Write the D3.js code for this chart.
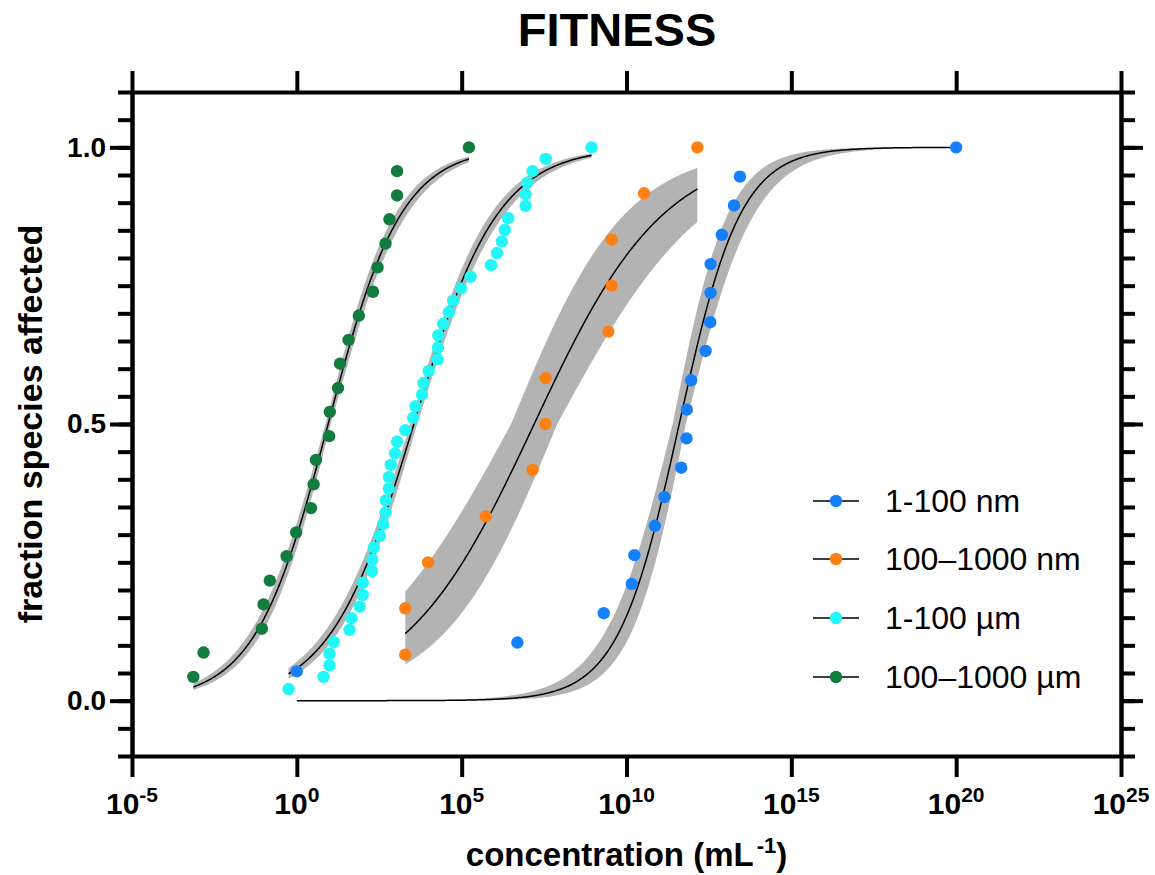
<!DOCTYPE html>
<html>
<head>
<meta charset="utf-8">
<script src="https://cdn.jsdelivr.net/npm/d3@7"></script>
<style>
  body { margin: 0; background: #fff; }
  svg { display: block; }
  text { font-family: "Liberation Sans", Arial, Helvetica, sans-serif; fill: #000; }
</style>
</head>
<body>
<svg id="chart" width="1155" height="875"></svg>
<script>
// ---- Data -------------------------------------------------------------
// Species sensitivity distributions: log10 concentration (per mL) at which
// each species is affected, and the cumulative fraction of species affected.

const seriesNames  = ["1-100 nm", "100–1000 nm", "1-100 µm", "100–1000 µm"];
const seriesColors = ["#1580FF", "#FF8012", "#22F6F6", "#127B3E"];

const nm1to100LogConc = [0.00, 6.69, 9.31, 10.16, 10.24, 10.86, 11.15, 11.66, 11.82, 11.83,
                         11.96, 12.40, 12.54, 12.55, 12.55, 12.89, 13.26, 13.44, 20.00];
const nm1to100Frac    = [0.053, 0.105, 0.158, 0.211, 0.263, 0.316, 0.368, 0.421, 0.474, 0.526,
                         0.579, 0.632, 0.684, 0.737, 0.789, 0.842, 0.895, 0.947, 1.000];

const nm100to1000LogConc = [3.29, 3.29, 3.98, 5.73, 7.15, 7.54, 7.55, 9.45, 9.55, 9.55, 10.53, 12.15];
const nm100to1000Frac    = [0.083, 0.167, 0.250, 0.333, 0.417, 0.500, 0.583, 0.667, 0.750, 0.833, 0.917, 1.000];

const um1to100LogConc = [-0.25, 0.81, 0.99, 0.99, 1.12, 1.60, 1.66, 1.91, 2.00, 2.00,
                          2.28, 2.29, 2.34, 2.52, 2.62, 2.69, 2.70, 2.79, 2.79, 2.85,
                          2.98, 3.04, 3.29, 3.53, 3.60, 3.80, 3.84, 4.00, 4.27, 4.28,
                          4.29, 4.44, 4.61, 4.74, 4.98, 5.27, 5.89, 6.07, 6.22, 6.31,
                          6.41, 6.94, 6.94, 6.99, 7.15, 7.55, 8.94];
const um1to100Frac    = [0.021, 0.043, 0.064, 0.085, 0.106, 0.128, 0.149, 0.170, 0.191, 0.213,
                         0.234, 0.255, 0.277, 0.298, 0.319, 0.340, 0.362, 0.383, 0.404, 0.426,
                         0.447, 0.468, 0.489, 0.511, 0.532, 0.553, 0.574, 0.596, 0.617, 0.638,
                         0.660, 0.681, 0.702, 0.723, 0.745, 0.766, 0.787, 0.809, 0.830, 0.851,
                         0.872, 0.894, 0.915, 0.936, 0.957, 0.979, 1.000];

const um100to1000LogConc = [-3.14, -2.83, -1.06, -1.01, -0.82, -0.31, -0.02, 0.43, 0.51, 0.58,
                             0.98, 1.00, 1.25, 1.31, 1.57, 1.88, 2.31, 2.45, 2.69, 2.81,
                             3.04, 3.04, 5.22];
const um100to1000Frac    = [0.043, 0.087, 0.130, 0.174, 0.217, 0.261, 0.304, 0.348, 0.391, 0.435,
                            0.478, 0.522, 0.565, 0.609, 0.652, 0.696, 0.739, 0.783, 0.826, 0.870,
                            0.913, 0.957, 1.000];

// Fitted log-logistic curves (bottom 0, top 1) and their uncertainty
const fitLogEC50    = [11.60, 7.20, 3.55, 0.95];
const fitHillSlope  = [0.465, 0.220, 0.340, 0.390];
const fitLogEC50Err = [0.20, 0.70, 0.10, 0.08];
const fitHillErr    = [0.050, 0.030, 0.015, 0.018];

// Axis ticks
const xTickExponents = [-5, 0, 5, 10, 15, 20, 25];
const yMajorTicks    = [0.0, 0.5, 1.0];

// ---- Layout -----------------------------------------------------------
const svg = d3.select("#chart");
const plotLeft = 132, plotRight = 1121, plotTop = 92, plotBottom = 756;

const x = d3.scaleLog().domain([1e-5, 1e25]).range([plotLeft, plotRight]);
const y = d3.scaleLinear().domain([-0.1, 1.1]).range([plotBottom, plotTop]);

const series = [
  { logc: nm1to100LogConc,    frac: nm1to100Frac },
  { logc: nm100to1000LogConc, frac: nm100to1000Frac },
  { logc: um1to100LogConc,    frac: um1to100Frac },
  { logc: um100to1000LogConc, frac: um100to1000Frac }
].map((s, i) => ({
  ...s,
  name: seriesNames[i],
  color: seriesColors[i],
  ec50: fitLogEC50[i], hill: fitHillSlope[i],
  ec50Err: fitLogEC50Err[i], hillErr: fitHillErr[i],
  points: s.logc.map((l, j) => ({ c: Math.pow(10, l), f: s.frac[j] }))
}));

const logistic = (lc, ec50, h) => 1 / (1 + Math.pow(10, (ec50 - lc) * h));

// ---- Fitted curves with confidence bands ------------------------------
function curveSamples(s) {
  const lo = d3.min(s.logc), hi = d3.max(s.logc);
  const n = 400;
  return d3.range(n + 1).map(k => {
    const lc = lo + (hi - lo) * k / n;
    const vals = [];
    for (const de of [-s.ec50Err, s.ec50Err])
      for (const dh of [-s.hillErr, s.hillErr])
        vals.push(logistic(lc, s.ec50 + de, s.hill + dh));
    return { c: Math.pow(10, lc), f: logistic(lc, s.ec50, s.hill),
             lo: d3.min(vals), hi: d3.max(vals) };
  });
}

const band = d3.area().x(d => x(d.c)).y0(d => y(d.lo)).y1(d => y(d.hi));
const line = d3.line().x(d => x(d.c)).y(d => y(d.f));

const gBands = svg.append("g");
const gCurves = svg.append("g");
const gPoints = svg.append("g");

series.forEach(s => {
  const samples = curveSamples(s);
  gBands.append("path").attr("d", band(samples)).attr("fill", "#B3B3B3");
  gCurves.append("path").attr("d", line(samples))
    .attr("fill", "none").attr("stroke", "#000").attr("stroke-width", 1.5);
});

series.forEach(s => {
  gPoints.append("g").selectAll("circle").data(s.points).join("circle")
    .attr("cx", d => x(d.c)).attr("cy", d => y(d.f)).attr("r", 6.2)
    .attr("fill", s.color);
});

// ---- Axes -------------------------------------------------------------
const xTickVals = xTickExponents.map(e => Math.pow(10, e));
const yMinorTicks = d3.range(-2, 23).map(k => +(k * 0.05).toFixed(2));

function styleAxis(g) {
  g.selectAll(".domain").attr("stroke", "#000").attr("stroke-width", 4);
  g.selectAll(".tick line").attr("stroke", "#000").attr("stroke-width", 4);
}

// bottom & top
svg.append("g").attr("transform", `translate(0,${plotBottom})`)
  .call(d3.axisBottom(x).tickValues(xTickVals).tickSize(21).tickSizeOuter(0).tickFormat(""))
  .call(styleAxis);
svg.append("g").attr("transform", `translate(0,${plotTop})`)
  .call(d3.axisTop(x).tickValues(xTickVals).tickSize(21).tickSizeOuter(0).tickFormat(""))
  .call(styleAxis);

// left & right: minor then major ticks
svg.append("g").attr("transform", `translate(${plotLeft},0)`)
  .call(d3.axisLeft(y).tickValues(yMinorTicks).tickSize(14).tickSizeOuter(0).tickFormat(""))
  .call(styleAxis);
svg.append("g").attr("transform", `translate(${plotLeft},0)`)
  .call(d3.axisLeft(y).tickValues(yMajorTicks).tickSize(22).tickSizeOuter(0)
        .tickPadding(4).tickFormat(d3.format(".1f")))
  .call(styleAxis)
  .call(g => g.selectAll(".tick text")
    .attr("font-family", "Liberation Sans, Arial, sans-serif")
    .attr("font-size", 28).attr("font-weight", "bold"));
svg.append("g").attr("transform", `translate(${plotRight},0)`)
  .call(d3.axisRight(y).tickValues(yMinorTicks).tickSize(14).tickSizeOuter(0).tickFormat(""))
  .call(styleAxis);
svg.append("g").attr("transform", `translate(${plotRight},0)`)
  .call(d3.axisRight(y).tickValues(yMajorTicks).tickSize(22).tickSizeOuter(0).tickFormat(""))
  .call(styleAxis);

// x tick labels as powers of ten
const xLab = svg.append("g").selectAll("text").data(xTickExponents).join("text")
  .attr("x", d => x(Math.pow(10, d))).attr("y", 814)
  .attr("text-anchor", "middle").attr("font-size", 30).attr("font-weight", "bold");
xLab.append("tspan").text("10");
xLab.append("tspan").attr("dy", -12).attr("font-size", 21).text(d => d);

// ---- Titles -----------------------------------------------------------
svg.append("text").attr("x", 617).attr("y", 46).attr("text-anchor", "middle")
  .attr("font-size", 47).attr("font-weight", "bold").text("FITNESS");

const xTitle = svg.append("text").attr("x", (plotLeft + plotRight) / 2).attr("y", 866)
  .attr("text-anchor", "middle").attr("font-size", 33).attr("font-weight", "bold");
xTitle.append("tspan").text("concentration (mL");
xTitle.append("tspan").attr("dx", 3).attr("dy", -13).attr("font-size", 22).text("-1");
xTitle.append("tspan").attr("dy", 13).text(")");

svg.append("text")
  .attr("transform", `translate(42,${(plotTop + plotBottom) / 2}) rotate(-90)`)
  .attr("text-anchor", "middle").attr("font-size", 34).attr("font-weight", "bold")
  .text("fraction species affected");

// ---- Legend -----------------------------------------------------------
const legendY = [501, 559, 618, 677];
const leg = svg.append("g").selectAll("g").data(series).join("g")
  .attr("transform", (d, i) => `translate(0,${legendY[i]})`);
leg.append("line").attr("x1", 813).attr("x2", 859).attr("y1", 0).attr("y2", 0)
  .attr("stroke", "#000").attr("stroke-width", 1.5);
leg.append("circle").attr("cx", 836).attr("cy", 0).attr("r", 6.2).attr("fill", d => d.color);
leg.append("text").attr("x", 885).attr("y", 11).attr("font-size", 32)
  .text(d => d.name);
</script>
</body>
</html>
